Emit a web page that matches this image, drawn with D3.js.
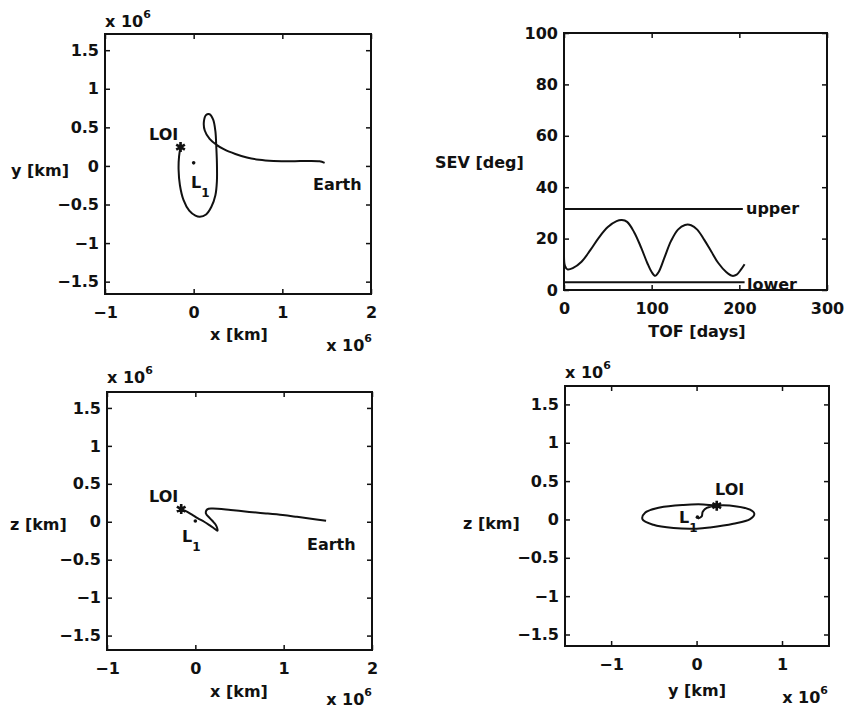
<!DOCTYPE html>
<html><head><meta charset="utf-8">
<script src="https://cdn.jsdelivr.net/npm/d3@7"></script>
<style>
html,body{margin:0;padding:0;background:#fff;}
text{font-family:"DejaVu Sans",sans-serif;font-weight:bold;fill:#111;}
</style></head>
<body>
<svg id="c" width="852" height="715"></svg>
<script>
// ---- data (positions in 10^6 km) ----
const xyX = [-0.148,-0.165,-0.17,-0.155,-0.115,-0.05,0.02,0.07,0.14,0.2,0.245,0.262,0.262,0.255,0.245,0.22,0.18,0.14,0.115,0.125,0.18,0.25,0.35,0.47,0.6,0.74,0.9,1.1,1.3,1.42,1.477];
const xyY = [0.245,0.12,-0.05,-0.25,-0.44,-0.58,-0.645,-0.66,-0.63,-0.53,-0.38,-0.2,0.05,0.25,0.45,0.6,0.67,0.66,0.57,0.46,0.35,0.28,0.21,0.155,0.11,0.08,0.065,0.06,0.065,0.06,0.04];
const xzX = [-0.16,-0.09,-0.03,0.03,0.10,0.16,0.21,0.25,0.24,0.21,0.166,0.12,0.125,0.15,0.2,0.4,0.61,0.8,0.99,1.15,1.29,1.48];
const xzZ = [0.167,0.13,0.088,0.045,0.0,-0.045,-0.085,-0.118,-0.06,-0.01,0.044,0.11,0.15,0.172,0.175,0.155,0.13,0.11,0.088,0.065,0.044,0.013];
const yzY = [0.014,0.06,0.072,0.12,0.236,0.47,0.626,0.676,0.626,0.43,0.158,0.0,-0.27,-0.505,-0.634,-0.6,-0.43,-0.154,0.08,0.236];
const yzZ = [0.01,0.04,0.10,0.15,0.18,0.17,0.127,0.074,0.005,-0.056,-0.104,-0.12,-0.112,-0.07,0.005,0.09,0.156,0.19,0.196,0.18];
const loiXY = [-0.148,0.245], l1XY = [0.0,0.04];
const loiXZ = [-0.16,0.167], l1XZ = [0.0,0.01];
const loiYZ = [0.236,0.18], l1YZ = [0.01,0.03];
const earthXY = [1.477,0.045];
const sevTOF = [0,1,4,10,20,30,40,50,60,66,72,80,88,95,100,104,108,115,122,130,138,145,152,160,168,176,185,192,197,202,206];
const sevDeg = [13,9.5,8,8.5,11,15.5,20.5,24.5,26.8,27.2,26.5,22.5,16.5,10.5,7,5.5,7,13,19,23.5,25.3,25.2,23.5,19.5,15,10.5,7,5.5,6,8,10];
const upperTOF = [0,204], upperDeg = [31.5,31.5];
const lowerTOF = [0,206], lowerDeg = [3,3];
const posTicks = [-1.5,-1,-0.5,0,0.5,1,1.5];
const xTicksA = [-1,0,1,2];
const yTicksD = [-1,0,1];
const tofTicks = [0,100,200,300];
const sevTicks = [0,20,40,60,80,100];

const svg = d3.select("#c");
const fmt = v => (v<0 ? "\u2212" : "") + String(Math.abs(v));

function panel(o){
  const g = svg.append("g");
  const x = d3.scaleLinear().domain(o.xd).range([o.l,o.r]);
  const y = d3.scaleLinear().domain(o.yd).range([o.b,o.t]);
  const T = 5;
  const ax = (axis, tr, labels) => {
    const a = g.append("g").attr("transform", tr).call(axis);
    a.select(".domain").remove();
    a.selectAll("line").attr("stroke","#111").attr("stroke-width",1.5);
    a.selectAll("text").style("font-size","16px").attr("fill","#111");
    if(!labels) a.selectAll("text").remove();
    return a;
  };
  ax(d3.axisBottom(x).tickValues(o.xt).tickSize(-T).tickPadding(13).tickFormat(fmt), `translate(0,${o.b})`, true);
  ax(d3.axisTop(x).tickValues(o.xt).tickSize(-T), `translate(0,${o.t})`, false);
  ax(d3.axisLeft(y).tickValues(o.yt).tickSize(-T).tickPadding(6).tickFormat(fmt), `translate(${o.l},0)`, true);
  ax(d3.axisRight(y).tickValues(o.yt).tickSize(-T), `translate(${o.r},0)`, false);
  g.append("rect").attr("x",o.l).attr("y",o.t).attr("width",o.r-o.l).attr("height",o.b-o.t)
    .attr("fill","none").attr("stroke","#111").attr("stroke-width",2);
  return {g,x,y};
}
function line(p, xs, ys, curve){
  p.g.append("path").datum(xs.map((v,i)=>[v,ys[i]]))
    .attr("d", d3.line().x(d=>p.x(d[0])).y(d=>p.y(d[1])).curve(curve||d3.curveCatmullRom.alpha(0.5)))
    .attr("fill","none").attr("stroke","#111").attr("stroke-width",2);
}
function txt(x,y,s,anchor,size){
  return svg.append("text").attr("x",x).attr("y",y).attr("text-anchor",anchor||"start")
    .style("font-size",(size||16)+"px").text(s);
}
function x106(x,y,anchor){
  const t = svg.append("text").attr("x",x).attr("y",y).attr("text-anchor",anchor||"start").style("font-size","16px");
  t.append("tspan").text("x 10");
  t.append("tspan").attr("dy",-9).style("font-size","11px").text("6");
}
function star(p, pt){
  p.g.append("path").attr("d", d3.symbol(d3.symbolAsterisk, 70)())
    .attr("transform",`translate(${p.x(pt[0])},${p.y(pt[1])})`)
    .attr("stroke","#111").attr("stroke-width",2.6).attr("fill","none");
  p.g.append("circle").attr("cx",p.x(pt[0])).attr("cy",p.y(pt[1])).attr("r",2.5).attr("fill","#111");
}
function dot(p, pt){
  p.g.append("circle").attr("cx",p.x(pt[0])).attr("cy",p.y(pt[1])).attr("r",1.8).attr("fill","#111");
}
function L1(x,y){
  const t = svg.append("text").attr("x",x).attr("y",y).style("font-size","16px");
  t.append("tspan").text("L");
  t.append("tspan").attr("dy",9).style("font-size","12px").text("1");
}

// ---- panel 1: x-y ----
const p1 = panel({l:105,r:371,t:34,b:294,xd:[-1,2],yd:[-1.66,1.71],xt:xTicksA,yt:posTicks});
line(p1, xyX, xyY);
star(p1, loiXY); dot(p1, l1XY);
txt(149,140,"LOI"); L1(191,188); txt(313,190,"Earth");
txt(11,176,"y [km]"); txt(239,340,"x [km]","middle");
x106(105,27); x106(372,351,"end");

// ---- panel 2: SEV ----
const p2 = panel({l:564,r:827,t:33,b:290,xd:[0,300],yd:[0,100],xt:tofTicks,yt:sevTicks});
line(p2, sevTOF, sevDeg);
line(p2, upperTOF, upperDeg, d3.curveLinear);
line(p2, lowerTOF, lowerDeg, d3.curveLinear);
txt(746,214,"upper"); txt(747,290,"lower");
txt(435,168,"SEV [deg]"); txt(697,337,"TOF [days]","middle");

// ---- panel 3: x-z ----
const p3 = panel({l:107,r:372,t:392,b:650,xd:[-1,2],yd:[-1.69,1.71],xt:xTicksA,yt:posTicks});
line(p3, xzX, xzZ);
star(p3, loiXZ); dot(p3, l1XZ);
txt(149,502,"LOI"); L1(182,542); txt(307,550,"Earth");
txt(10,530,"z [km]"); txt(239,697,"x [km]","middle");
x106(107,383); x106(372,705,"end");

// ---- panel 4: y-z ----
const p4 = panel({l:565,r:829,t:386,b:646,xd:[-1.54,1.55],yd:[-1.65,1.74],xt:yTicksD,yt:posTicks});
line(p4, yzY, yzZ);
star(p4, loiYZ); dot(p4, l1YZ);
txt(715,495,"LOI"); L1(679,523);
txt(463,529,"z [km]"); txt(697,696,"y [km]","middle");
x106(565,378); x106(828,703,"end");
</script>
</body></html>
